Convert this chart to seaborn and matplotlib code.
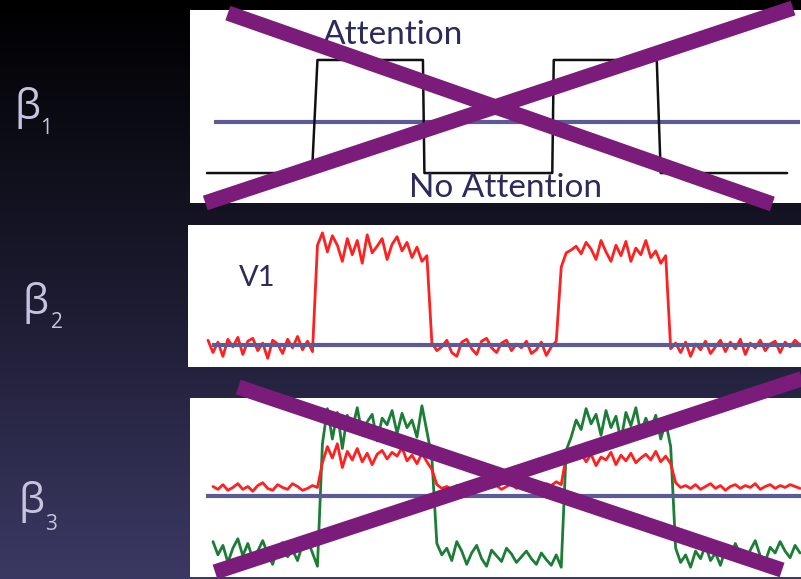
import numpy as np
import matplotlib
matplotlib.use("Agg")
import matplotlib.pyplot as plt
import seaborn as sns
from matplotlib.colors import LinearSegmentedColormap

sns.set_theme(style="white")
plt.rcParams["font.family"] = ["Lato", "DejaVu Sans"]

# ---------------------------------------------------------------------------
# Data (time in scans, signal in arbitrary units)
# ---------------------------------------------------------------------------
# beta 1: block design regressor (attention on / off)
box_t = [-0.2, 20.9, 22.0, 43.2, 43.5, 69.2, 69.5, 90.2, 91.0, 116.4]
box_y = [0, 0, 1, 1, 0, 0, 1, 1, 0, 0]
box_ref = 0.45

# beta 2: V1 time course
v1_signal = [
    0.05, -0.08, 0.03, -0.12, 0.06, -0.02, 0.08, -0.10, 0.04, 0.07, -0.06,
    0.02, -0.14, 0.05, 0.01, -0.09, 0.06, -0.03, 0.09, -0.05, 0.04, -0.07,
    1.05, 1.18, 0.98, 1.15, 1.05, 0.88, 1.12, 0.95, 1.10, 0.86, 1.16, 0.97,
    1.04, 1.12, 0.90, 1.06, 1.14, 0.99, 1.08, 0.92, 1.03, 0.88, 0.94,
    0.02, -0.06, -0.02, 0.05, -0.08, -0.12, 0.03, 0.06, -0.04, -0.10, 0.04,
    0.07, -0.03, -0.08, 0.02, 0.05, -0.06, 0.01, -0.03, 0.04, -0.09, -0.05,
    0.03, -0.11, -0.02, 0.04,
    0.82, 0.97, 1.00, 1.04, 0.96, 1.08, 1.01, 0.90, 1.10, 0.98, 0.88, 1.05,
    0.94, 1.09, 0.88, 1.02, 0.95, 1.10, 0.92, 0.99, 0.86, 0.94,
    -0.04, 0.02, -0.08, 0.03, -0.12, 0.01, -0.05, 0.04, -0.09, -0.02, 0.05,
    -0.07, 0.03, -0.04, 0.06, -0.10, 0.02, -0.03, 0.05, -0.06, 0.01, 0.04,
    -0.08, 0.03, -0.02, 0.05, 0.00,
]

# beta 3: two regions
red_signal = [
    0.10, 0.07, 0.12, 0.06, 0.09, 0.13, 0.07, 0.10, 0.05, 0.11, 0.14, 0.08,
    0.06, 0.12, 0.09, 0.07, 0.13, 0.10, 0.06, 0.08, 0.11, 0.09,
    0.35, 0.52, 0.40, 0.55, 0.30, 0.47, 0.38, 0.50, 0.36, 0.45, 0.33, 0.44,
    0.48, 0.39, 0.46, 0.42, 0.51, 0.37, 0.43, 0.34, 0.45, 0.36, 0.28,
    0.12, 0.08, 0.10, 0.07, 0.11, 0.09, 0.13, 0.08, 0.10, 0.06, 0.12, 0.09,
    0.11, 0.07, 0.10, 0.13, 0.08, 0.11, 0.09, 0.12, 0.10, 0.08, 0.13, 0.11,
    0.15, 0.12,
    0.42, 0.48, 0.40, 0.45, 0.36, 0.44, 0.32, 0.41, 0.38, 0.46, 0.33, 0.43,
    0.37, 0.45, 0.35, 0.40, 0.44, 0.38, 0.47, 0.36, 0.42, 0.34,
    0.14, 0.09, 0.11, 0.08, 0.12, 0.07, 0.10, 0.13, 0.08, 0.11, 0.06, 0.10,
    0.12, 0.08, 0.11, 0.09, 0.13, 0.07, 0.10, 0.12, 0.08, 0.11, 0.09, 0.12,
    0.10, 0.08,
]
green_signal = [
    -0.48, -0.62, -0.52, -0.70, -0.55, -0.45, -0.63, -0.50, -0.66, -0.58,
    -0.47, -0.61, -0.72, -0.54, -0.49, -0.64, -0.57, -0.68, -0.51, -0.46,
    -0.60, -0.74,
    0.55, 0.92, 0.60, 0.88, 0.50, 0.85, 0.70, 0.93, 0.64, 0.78, 0.86, 0.58,
    0.82, 0.75, 0.90, 0.66, 0.87, 0.72, 0.80, 0.62, 0.95, 0.68, 0.40,
    -0.50, -0.62, -0.55, -0.68, -0.48, -0.58, -0.72, -0.60, -0.52, -0.66,
    -0.74, -0.57, -0.63, -0.69, -0.55, -0.61, -0.70, -0.64, -0.58, -0.66,
    -0.72, -0.60, -0.67, -0.73, -0.62, -0.75,
    0.48, 0.62, 0.80, 0.70, 0.92, 0.76, 0.86, 0.64, 0.90, 0.72, 0.84, 0.58,
    0.88, 0.74, 0.93, 0.66, 0.82, 0.70, 0.85, 0.60, 0.78, 0.52,
    -0.55, -0.70, -0.62, -0.75, -0.58, -0.66, -0.52, -0.68, -0.60, -0.73,
    -0.56, -0.64, -0.50, -0.62, -0.71, -0.57, -0.47, -0.63, -0.69, -0.54,
    -0.60, -0.48, -0.58, -0.65, -0.52, -0.60,
]

row_labels = ["1", "2", "3"]

# ---------------------------------------------------------------------------
# Figure
# ---------------------------------------------------------------------------
W, H = 801, 579
fig = plt.figure(figsize=(W / 100, H / 100), dpi=100)

# dark gradient background
bg = fig.add_axes([0, 0, 1, 1])
grad = LinearSegmentedColormap.from_list("bg", ["#000000", "#1b1a2f", "#3b3963"])
bg.imshow(np.linspace(0, 1, 256).reshape(-1, 1), cmap=grad, aspect="auto",
          extent=[0, 1, 0, 1], origin="upper")
bg.set_axis_off()


def panel(left, top, right, bottom, ylim):
    ax = fig.add_axes([left / W, 1 - bottom / H, (right - left) / W, (bottom - top) / H])
    ax.set_facecolor("white")
    ax.set_xlim((left - 208) / 4.975, (right - 208) / 4.975)
    ax.set_ylim(*ylim)
    ax.set_xticks([])
    ax.set_yticks([])
    for s in ax.spines.values():
        s.set_visible(False)
    return ax


REF = "#5d5a98"
TXT = "#2d2a5c"
CROSS = "#7b1c7a"

# panel 1: attention design
ax1 = panel(190, 10, 801, 203, (-0.265, 1.442))
ax1.hlines(box_ref, 1.2, 119, color=REF, linewidth=3)
sns.lineplot(x=box_t, y=box_y, ax=ax1, color="#111111", linewidth=1.8,
             sort=False, estimator=None)
ax1.text(37.2, 1.22, "Attention", ha="center", va="center", fontsize=24, color=TXT)
ax1.text(59.7, -0.13, "No Attention", ha="center", va="center", fontsize=24, color=TXT)

# panel 2: V1
ax2 = panel(188, 225, 801, 367, (-0.232, 1.263))
ax2.hlines(0, 0.8, 119.2, color=REF, linewidth=3, zorder=3)
sns.lineplot(x=np.arange(len(v1_signal)), y=v1_signal, ax=ax2, color="#ff2020",
             linewidth=2, estimator=None)
ax2.text(9.8, 0.70, "V1", ha="center", va="center", fontsize=21, color=TXT)

# panel 3: two regions
ax3 = panel(190, 398, 801, 577, (-0.853, 1.032))
sns.lineplot(x=np.arange(1, len(green_signal) + 1), y=green_signal, ax=ax3,
             color="#1b7d36", linewidth=2, estimator=None)
sns.lineplot(x=np.arange(1, len(red_signal) + 1), y=red_signal, ax=ax3,
             color="#ff2020", linewidth=2, estimator=None)
ax3.hlines(0, -0.4, 119.2, color=REF, linewidth=3, zorder=3)

# crossed-out panels
for ax, segs in [(ax1, [((0.062, 0.984), (0.953, -0.005)), ((0.025, 0.0), (0.987, 1.01))]),
                 (ax3, [((0.079, 1.061), (0.969, 0.039)), ((0.041, 0.028), (1.03, 1.14))])]:
    for (xa, ya), (xb, yb) in segs:
        ax.plot([xa, xb], [ya, yb], transform=ax.transAxes, color=CROSS,
                linewidth=11, solid_capstyle="butt", clip_on=False, zorder=10)

# row labels
for (bx, by), sub, (sx, sy) in zip([(27, 108), (36, 303), (32, 502)], row_labels,
                                   [(46, 128), (57, 322), (51, 525)]):
    fig.text(bx / W, 1 - by / H, "β", ha="center", va="center", fontsize=30,
             color="#c6c3e0", family=["Open Sans", "DejaVu Sans"])
    fig.text(sx / W, 1 - sy / H, sub, ha="center", va="center", fontsize=15,
             color="#c6c3e0", family=["Open Sans", "DejaVu Sans"])

fig.savefig("out.png", dpi=100)
